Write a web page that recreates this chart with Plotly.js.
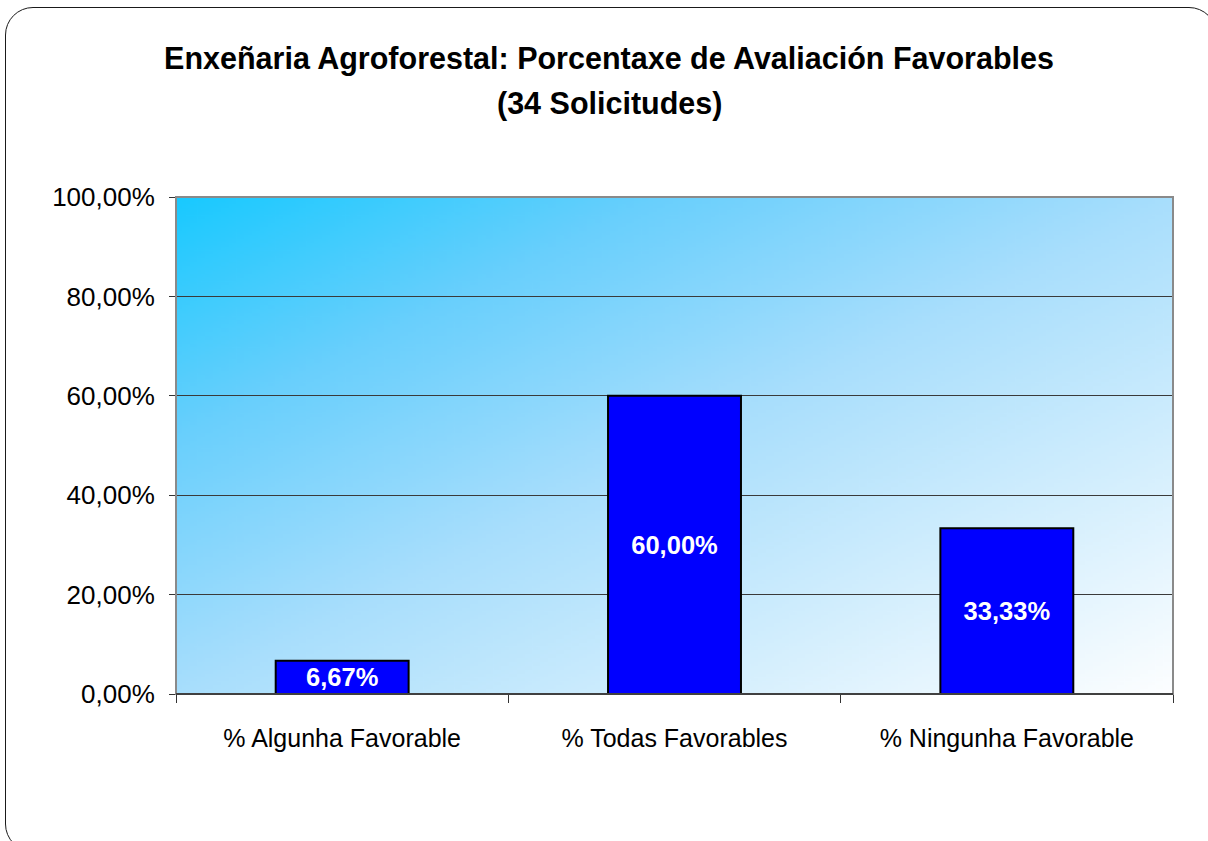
<!DOCTYPE html>
<html><head><meta charset="utf-8">
<script src="https://cdn.plot.ly/plotly-3.0.1.min.js"></script>
<style>
html,body{margin:0;padding:0;background:#fff;overflow:hidden}
#chart{width:1208px;height:841px;position:absolute;left:0;top:0}
#frame{position:absolute;left:5px;top:7px;width:1212px;height:845px;border:1.5px solid #1a1a1a;border-radius:28px;box-sizing:border-box;pointer-events:none}
</style></head><body>
<div id="chart"></div><div id="frame"></div>
<script>
const categories = ['% Algunha Favorable', '% Todas Favorables', '% Ningunha Favorable'];
const values = [6.67, 60.00, 33.33];
const yTickVals = [0, 20, 40, 60, 80, 100];
const yTickText = ['0,00%', '20,00%', '40,00%', '60,00%', '80,00%', '100,00%'];
const titleLine1 = 'Enxeñaria Agroforestal: Porcentaxe de Avaliación Favorables';
const titleLine2 = '(34 Solicitudes)';

function gradientImage() {
  const c = document.createElement('canvas');
  c.width = 256; c.height = 256;
  const g = c.getContext('2d');
  const gr = g.createLinearGradient(0, 0, 256, 256);
  gr.addColorStop(0, '#18C9FF');
  gr.addColorStop(0.24, '#68CFFC');
  gr.addColorStop(0.5, '#A8DEFC');
  gr.addColorStop(1, '#FDFEFF');
  g.fillStyle = gr;
  g.fillRect(0, 0, 256, 256);
  return c.toDataURL('image/png');
}

const FONT = '"Liberation Sans", Arial, sans-serif';

const trace = {
  type: 'bar',
  x: categories,
  y: values,
  width: 0.4,
  marker: { color: '#0000FF', line: { color: '#000000', width: 2 } },
  texttemplate: '%{y:.2f}%',
  textposition: 'inside',
  insidetextanchor: 'middle',
  constraintext: 'none',
  textangle: 0,
  textfont: { family: FONT, size: 25.5, color: '#FFFFFF', weight: 'bold' },
  hoverinfo: 'skip'
};

const layout = {
  width: 1208, height: 841,
  margin: { l: 176, r: 35, t: 197, b: 147, autoexpand: false },
  paper_bgcolor: 'rgba(0,0,0,0)',
  plot_bgcolor: 'rgba(0,0,0,0)',
  separators: ',.',
  showlegend: false,
  title: {
    text: '<b>' + titleLine1 + '</b>',
    x: 609 / 1208, xref: 'container', xanchor: 'center',
    y: 1 - 58 / 841, yref: 'container', yanchor: 'middle',
    font: { family: FONT, size: 30.5, color: '#000000' }
  },
  annotations: [{
    text: '<b>' + titleLine2 + '</b>',
    xref: 'paper', yref: 'paper',
    x: (609 - 176) / 997, y: (694 - 103) / 497,
    xanchor: 'center', yanchor: 'middle', showarrow: false,
    font: { family: FONT, size: 30.5, color: '#000000' }
  }],
  xaxis: {
    type: 'category',
    range: [-0.5, 2.5],
    tickson: 'boundaries',
    ticks: 'outside', ticklen: 8, tickwidth: 1, tickcolor: '#333333',
    showgrid: false, showline: false, zeroline: false,
    ticklabelstandoff: 27,
    tickfont: { family: FONT, size: 25, color: '#000000' },
    fixedrange: true
  },
  yaxis: {
    range: [0, 100],
    tickmode: 'array',
    tickvals: yTickVals,
    ticktext: yTickText,
    ticks: 'outside', ticklen: 6, tickwidth: 1, tickcolor: '#333333',
    showgrid: true, gridcolor: '#3a3a3a', gridwidth: 1,
    showline: false, zeroline: false,
    ticklabelstandoff: 9,
    tickfont: { family: FONT, size: 26, color: '#000000' },
    fixedrange: true
  },
  images: [{
    source: gradientImage(),
    xref: 'paper', yref: 'paper', x: 0, y: 1, sizex: 1, sizey: 1,
    xanchor: 'left', yanchor: 'top', sizing: 'stretch', layer: 'below'
  }],
  shapes: [
    { type: 'rect', xref: 'paper', yref: 'paper', x0: 0, x1: 1, y0: 0, y1: 1, line: { color: '#8a8a8a', width: 2 }, layer: 'above' },
    { type: 'line', xref: 'paper', yref: 'paper', x0: 0, x1: 1, y0: 0, y1: 0, line: { color: '#404040', width: 2 }, layer: 'above' }
  ]
};

Plotly.newPlot('chart', [trace], layout, { displayModeBar: false, staticPlot: true });
</script>
</body></html>
